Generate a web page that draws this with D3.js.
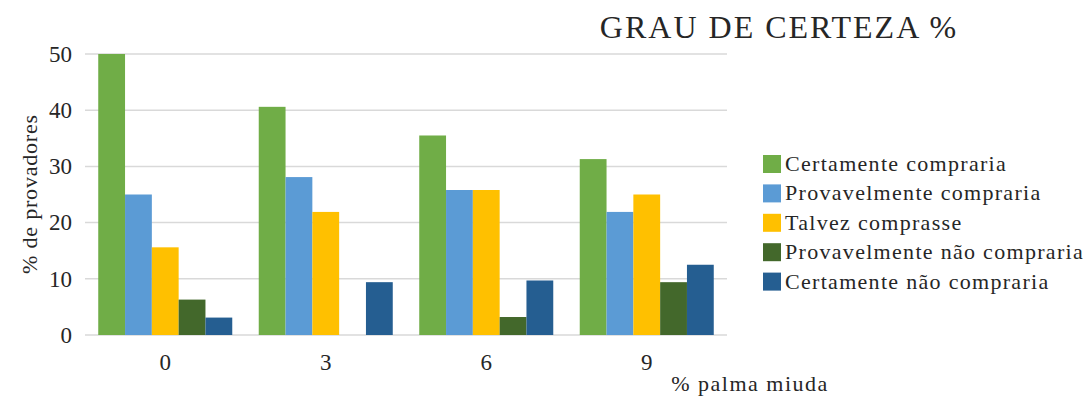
<!DOCTYPE html>
<html>
<head>
<meta charset="utf-8">
<script src="https://cdn.jsdelivr.net/npm/d3@7"></script>
<style>
  html, body { margin: 0; padding: 0; background: #fff; }
  svg text { font-family: "Liberation Serif", "Times New Roman", serif; fill: #262626; }
</style>
</head>
<body>
<svg id="chart" width="1088" height="400"></svg>
<script>
// Purchase intent by percentage of palma miúda in the formulation
const categories = ["0", "3", "6", "9"];
const seriesNames = [
  "Certamente compraria",
  "Provavelmente compraria",
  "Talvez comprasse",
  "Provavelmente não compraria",
  "Certamente não compraria"
];
const seriesColors = ["#70AD47", "#5B9BD5", "#FFC000", "#43682B", "#255E91"];
// one value per category for each series
const certamente = [50, 40.6, 35.5, 31.3];
const provavelmente = [25, 28.1, 25.8, 21.9];
const talvez = [15.6, 21.9, 25.8, 25];
const provavelmenteNao = [6.3, 0, 3.2, 9.4];
const certamenteNao = [3.1, 9.4, 9.7, 12.5];
const yTicks = [0, 10, 20, 30, 40, 50];

const seriesValues = [certamente, provavelmente, talvez, provavelmenteNao, certamenteNao];

const svg = d3.select("#chart");
const plot = { left: 85, right: 727, top: 54, bottom: 335 };

const x0 = d3.scaleBand().domain(categories)
  .range([plot.left, plot.right]).paddingInner(0.165).paddingOuter(0.0825);
const x1 = d3.scaleBand().domain(d3.range(seriesNames.length))
  .range([0, x0.bandwidth()]);
const y = d3.scaleLinear().domain([0, 50]).range([plot.bottom, plot.top]);

// horizontal gridlines
svg.append("g").selectAll("line").data(yTicks).join("line")
  .attr("x1", plot.left).attr("x2", plot.right)
  .attr("y1", d => y(d)).attr("y2", d => y(d))
  .attr("stroke", "#d9d9d9").attr("stroke-width", 1.5);

// y axis tick labels
const yAxis = d3.axisLeft(y).tickValues(yTicks).tickSize(0).tickPadding(13);
const gy = svg.append("g").attr("transform", `translate(${plot.left},0)`).call(yAxis);
gy.select(".domain").remove();
gy.selectAll("text").style("font-size", "23px")
  .style("font-family", "'Liberation Serif', serif").attr("fill", "#262626");

// x axis tick labels
const xAxis = d3.axisBottom(x0).tickSize(0).tickPadding(19);
const gx = svg.append("g").attr("transform", `translate(0,${plot.bottom})`).call(xAxis);
gx.select(".domain").remove();
gx.selectAll("text").style("font-size", "23px")
  .style("font-family", "'Liberation Serif', serif").attr("fill", "#262626");

// bars
const groups = svg.append("g").selectAll("g").data(categories).join("g")
  .attr("transform", d => `translate(${x0(d)},0)`);
groups.selectAll("rect")
  .data((c, ci) => seriesValues.map((vals, si) => ({ si, v: vals[ci] })))
  .join("rect")
  .attr("x", d => x1(d.si))
  .attr("width", x1.bandwidth())
  .attr("y", d => y(d.v))
  .attr("height", d => y(0) - y(d.v))
  .attr("fill", d => seriesColors[d.si]);

// title
svg.append("text").attr("x", 779).attr("y", 38).attr("text-anchor", "middle")
  .style("font-size", "32px").style("letter-spacing", "2px").text("GRAU DE CERTEZA %");

// axis titles
svg.append("text").attr("transform", "translate(37,194) rotate(-90)")
  .attr("text-anchor", "middle").style("font-size", "22px").style("letter-spacing", "0.8px")
  .text("% de provadores");
svg.append("text").attr("x", 750).attr("y", 391).attr("text-anchor", "middle")
  .style("font-size", "22px").style("letter-spacing", "1.5px").text("% palma miuda");

// legend
const legend = svg.append("g").attr("transform", "translate(763,164)");
const items = legend.selectAll("g").data(seriesNames).join("g")
  .attr("transform", (d, i) => `translate(0,${i * 29.4})`);
items.append("rect").attr("x", 0).attr("y", -9).attr("width", 18).attr("height", 18)
  .attr("fill", (d, i) => seriesColors[i]);
items.append("text").attr("x", 22).attr("y", 7).style("font-size", "22px")
  .style("letter-spacing", "1.3px").text(d => d);
</script>
</body>
</html>
